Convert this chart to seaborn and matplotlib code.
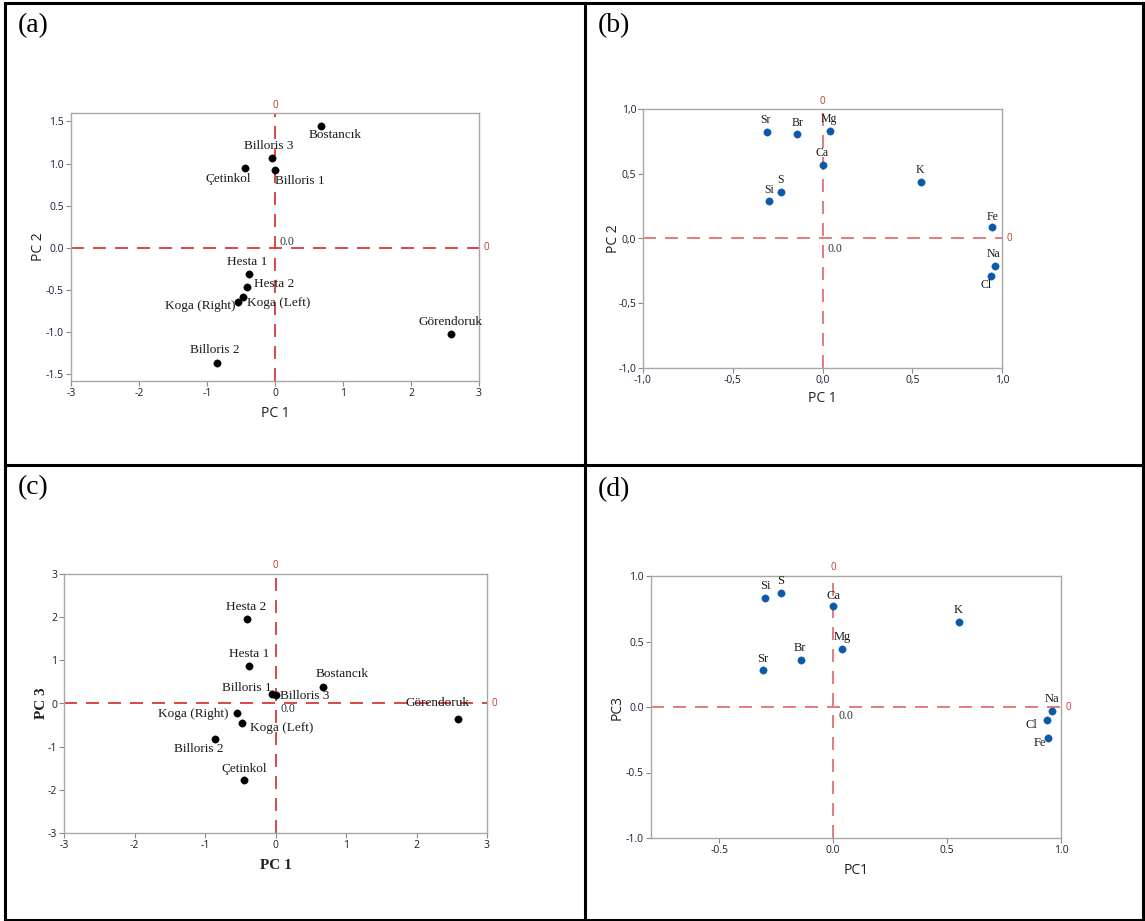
import matplotlib
matplotlib.use("Agg")
import matplotlib.pyplot as plt
from matplotlib.lines import Line2D
from matplotlib.ticker import FixedLocator, FixedFormatter
import seaborn as sns
import pandas as pd

# ---------------- data ----------------
sites = ["Bostancık", "Billoris 3", "Çetinkol", "Billoris 1", "Hesta 1", "Hesta 2",
         "Koga (Left)", "Koga (Right)", "Görendoruk", "Billoris 2"]
site_pc1 = [0.68, -0.05, -0.44, 0.00, -0.38, -0.41, -0.47, -0.55, 2.59, -0.86]
site_pc2 = [1.45, 1.07, 0.95, 0.92, -0.31, -0.46, -0.58, -0.64, -1.02, -1.37]
site_pc3 = [0.39, 0.22, -1.77, 0.20, 0.86, 1.95, -0.45, -0.22, -0.37, -0.82]

elements = ["Sr", "Br", "Mg", "Ca", "K", "S", "Si", "Fe", "Na", "Cl"]
elem_pc1 = [-0.31, -0.14, 0.04, 0.00, 0.55, -0.23, -0.30, 0.945, 0.96, 0.94]
elem_pc2 = [0.82, 0.81, 0.83, 0.565, 0.44, 0.36, 0.29, 0.09, -0.21, -0.29]
elem_pc3 = [0.28, 0.36, 0.44, 0.77, 0.65, 0.87, 0.83, -0.24, -0.03, -0.10]

ticks_site_a_x = [-3, -2, -1, 0, 1, 2, 3]
labels_site_x = ["-3", "-2", "-1", "0", "1", "2", "3"]
ticks_site_a_y = [-1.5, -1.0, -0.5, 0.0, 0.5, 1.0, 1.5]
labels_site_a_y = ["-1.5", "-1.0", "-0.5", "0.0", "0.5", "1.0", "1.5"]
ticks_site_c_y = [-3, -2, -1, 0, 1, 2, 3]
labels_site_c_y = ["-3", "-2", "-1", "0", "1", "2", "3"]
ticks_elem_b = [-1.0, -0.5, 0.0, 0.5, 1.0]
labels_elem_b = ["-1,0", "-0,5", "0,0", "0,5", "1,0"]
ticks_elem_d_x = [-0.5, 0.0, 0.5, 1.0]
labels_elem_d_x = ["-0.5", "0.0", "0.5", "1.0"]
labels_elem_d_y = ["-1.0", "-0.5", "0.0", "0.5", "1.0"]

sites_df = pd.DataFrame({"name": sites, "PC1": site_pc1, "PC2": site_pc2, "PC3": site_pc3})
elem_df = pd.DataFrame({"name": elements, "PC1": elem_pc1, "PC2": elem_pc2, "PC3": elem_pc3})

# ------------- label offsets (pixels: dx right, dy down) -------------
off_a = {"Bostancık": (14, 9), "Billoris 3": (-3, -12), "Çetinkol": (-17, 11),
         "Billoris 1": (25, 11), "Hesta 1": (-2, -12), "Hesta 2": (27, -3),
         "Koga (Left)": (36, 6), "Koga (Right)": (-37, 4), "Görendoruk": (-1, -12),
         "Billoris 2": (-2, -13)}
off_c = {"Hesta 2": (0, -12), "Hesta 1": (0, -12), "Billoris 1": (-29, -7),
         "Billoris 3": (33, 2), "Bostancık": (19, -13), "Görendoruk": (-21, -16),
         "Koga (Right)": (-43, 1), "Koga (Left)": (39, 5), "Billoris 2": (-16, 10),
         "Çetinkol": (0, -11)}
off_b = {"Sr": (-1, -12), "Br": (0, -11), "Mg": (-1, -12), "Ca": (0, -12), "K": (-1, -12),
         "S": (-1, -12), "Si": (0, -11), "Fe": (0, -10), "Na": (-1, -12), "Cl": (-5, 9)}
off_d = {"Si": (0, -12), "S": (0, -12), "Ca": (0, -10), "K": (0, -12), "Mg": (0, -12),
         "Br": (-1, -12), "Sr": (0, -11), "Na": (0, -12), "Cl": (-16, 5), "Fe": (-9, 5)}

sns.set_theme(style="white")
plt.rcParams["font.family"] = ["Open Sans", "DejaVu Sans"]
plt.rcParams["axes.unicode_minus"] = False

W, H = 1145, 921
fig = plt.figure(figsize=(W / 100, H / 100), dpi=100)
fig.patch.set_facecolor("white")


def rect(l, r, t, b):
    return [l / W, 1 - b / H, (r - l) / W, (b - t) / H]


def fig_line(x0, y0, x1, y1, lw=2.2):
    fig.add_artist(Line2D([x0 / W, x1 / W], [1 - y0 / H, 1 - y1 / H],
                          transform=fig.transFigure, color="black", lw=lw,
                          solid_capstyle="projecting"))


SERIF = ["Liberation Serif", "DejaVu Serif"]


def style_axes(ax, xlabel, ylabel, xlab_serif=False, ref_color="#d83c3c",
               xpad=6, ypad=8):
    for sp in ax.spines.values():
        sp.set_color("#a8a8a8")
        sp.set_linewidth(1.0)
        sp.set_visible(True)
    ax.tick_params(direction="out", length=3.5, width=0.8, color="#8a8a8a",
                   labelsize=7.5, labelcolor="#1c1c38", pad=1.5,
                   bottom=True, left=True)
    if xlab_serif:
        ax.set_xlabel(xlabel, fontsize=11, family=SERIF, fontweight="bold",
                      color="#202020", labelpad=xpad)
        ax.set_ylabel(ylabel, fontsize=11, family=SERIF, fontweight="bold",
                      color="#202020", labelpad=ypad)
    else:
        ax.set_xlabel(xlabel, fontsize=10, color="#202020", labelpad=xpad)
        ax.set_ylabel(ylabel, fontsize=10, color="#202020", labelpad=ypad)
    ls = (0, (7.8, 5.4))
    ax.axhline(0, color=ref_color, lw=1.2, ls=ls, zorder=1)
    ax.axvline(0, color=ref_color, lw=1.2, ls=ls, zorder=1)
    ax.annotate("0", xy=(0, 1), xycoords=("data", "axes fraction"), xytext=(0, 8),
                textcoords="offset pixels", ha="center", va="center",
                color="#c0392b", fontsize=7, annotation_clip=False)
    ax.annotate("0", xy=(1, 0), xycoords=("axes fraction", "data"), xytext=(7, 0),
                textcoords="offset pixels", ha="center", va="center",
                color="#c0392b", fontsize=7, annotation_clip=False)


def draw_points(ax, df, xcol, ycol, color, offsets, fs):
    sns.scatterplot(data=df, x=xcol, y=ycol, ax=ax, color=color, s=28,
                    edgecolor=color, linewidth=0.3, zorder=3, legend=False)
    for _, row in df.iterrows():
        dx, dy = offsets[row["name"]]
        ax.annotate(row["name"], (row[xcol], row[ycol]), xytext=(dx, -dy),
                    textcoords="offset pixels", ha="center", va="center",
                    family=SERIF, fontsize=fs, color="#1a1a1a", zorder=4)


def origin_label(ax, dx, dy):
    ax.annotate("0.0", (0, 0), xytext=(dx, -dy), textcoords="offset pixels",
                ha="center", va="center", family=SERIF, fontsize=8.5, color="#303030")


# ---------------- panel (a) ----------------
ax_a = fig.add_axes(rect(71, 479, 113, 381))
draw_points(ax_a, sites_df, "PC1", "PC2", "black", off_a, 9.5)
ax_a.set_xlim(-3, 3)
ax_a.set_ylim(-1.58, 1.6)
ax_a.xaxis.set_major_locator(FixedLocator(ticks_site_a_x))
ax_a.xaxis.set_major_formatter(FixedFormatter(labels_site_x))
ax_a.yaxis.set_major_locator(FixedLocator(ticks_site_a_y))
ax_a.yaxis.set_major_formatter(FixedFormatter(labels_site_a_y))
style_axes(ax_a, "PC 1", "PC 2", ref_color="#d42a2a", xpad=5, ypad=0)
origin_label(ax_a, 12, -6)

# ---------------- panel (b) ----------------
ax_b = fig.add_axes(rect(643, 1002, 109, 368))
draw_points(ax_b, elem_df, "PC1", "PC2", "#0a5aa8", off_b, 8.5)
ax_b.set_xlim(-1, 1)
ax_b.set_ylim(-1, 1)
ax_b.xaxis.set_major_locator(FixedLocator(ticks_elem_b))
ax_b.xaxis.set_major_formatter(FixedFormatter(labels_elem_b))
ax_b.yaxis.set_major_locator(FixedLocator(ticks_elem_b))
ax_b.yaxis.set_major_formatter(FixedFormatter(labels_elem_b))
style_axes(ax_b, "PC 1", "PC 2", ref_color="#e06666", xpad=4, ypad=-2)
origin_label(ax_b, 12, 10)

# ---------------- panel (c) ----------------
ax_c = fig.add_axes(rect(64, 487, 574, 833))
draw_points(ax_c, sites_df, "PC1", "PC3", "black", off_c, 9.5)
ax_c.set_xlim(-3, 3)
ax_c.set_ylim(-3, 3)
ax_c.xaxis.set_major_locator(FixedLocator(ticks_site_a_x))
ax_c.xaxis.set_major_formatter(FixedFormatter(labels_site_x))
ax_c.yaxis.set_major_locator(FixedLocator(ticks_site_c_y))
ax_c.yaxis.set_major_formatter(FixedFormatter(labels_site_c_y))
style_axes(ax_c, "PC 1", "PC 3", xlab_serif=True, ref_color="#d42a2a", xpad=6, ypad=0)
origin_label(ax_c, 12, 6)

# ---------------- panel (d) ----------------
ax_d = fig.add_axes(rect(651, 1061, 576, 838))
draw_points(ax_d, elem_df, "PC1", "PC3", "#0a5aa8", off_d, 9)
ax_d.set_xlim(-0.8, 1.0)
ax_d.set_ylim(-1, 1)
ax_d.xaxis.set_major_locator(FixedLocator(ticks_elem_d_x))
ax_d.xaxis.set_major_formatter(FixedFormatter(labels_elem_d_x))
ax_d.yaxis.set_major_locator(FixedLocator(ticks_elem_b))
ax_d.yaxis.set_major_formatter(FixedFormatter(labels_elem_d_y))
style_axes(ax_d, "PC1", "PC3", ref_color="#e06666", xpad=5, ypad=1)
origin_label(ax_d, 13, 9)

# ---------------- panel letters ----------------
for letter, (x, y) in zip(["(a)", "(b)", "(c)", "(d)"],
                          [(18, 26), (598, 26), (18, 488), (598, 490)]):
    fig.text(x / W, 1 - y / H, letter, family=SERIF, fontsize=20,
             ha="left", va="center", color="black")

# ---------------- frame ----------------
fig_line(5, 3, 1143, 3)
fig_line(5, 920, 1143, 920)
fig_line(5, 3, 5, 920)
fig_line(1143, 3, 1143, 920)
fig_line(585, 3, 585, 920)
fig_line(5, 465, 1143, 465)

fig.savefig("out.png", dpi=100, facecolor="white")
